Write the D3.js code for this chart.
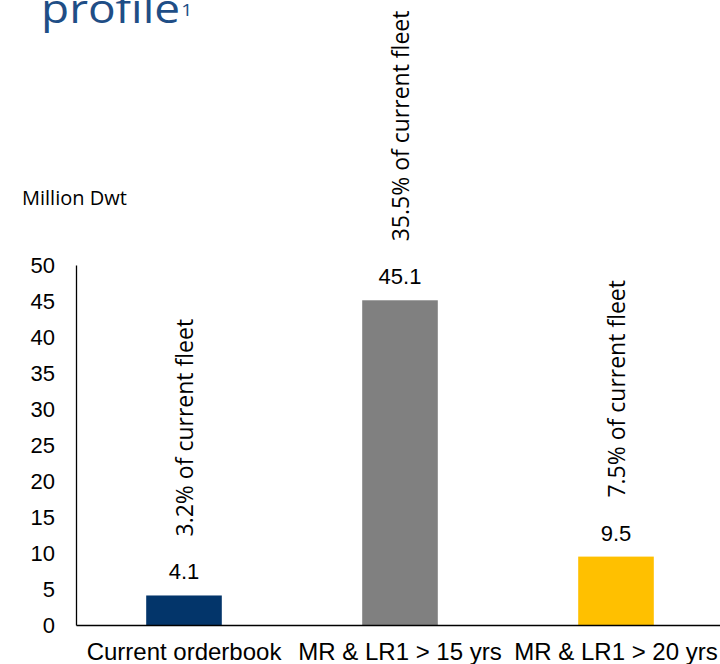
<!DOCTYPE html>
<html>
<head>
<meta charset="utf-8">
<script src="https://cdn.jsdelivr.net/npm/d3@7"></script>
<style>
  body { margin: 0; background: #fff; }
  svg { display: block; }
</style>
</head>
<body>
<div id="chart"></div>
<script>
// chart size
var w = 720;
var h = 664;

// data
var categories = ["Current orderbook", "MR & LR1 > 15 yrs", "MR & LR1 > 20 yrs"];
var values = [4.1, 45.1, 9.5];
var shareLabels = ["3.2% of current fleet", "35.5% of current fleet", "7.5% of current fleet"];
var barColors = ["#03356a", "#808080", "#ffc000"];
var yTicks = [0, 5, 10, 15, 20, 25, 30, 35, 40, 45, 50];

var svg = d3.select("#chart")
    .append("svg")
    .attr("width", w)
    .attr("height", h);

var xScale = d3.scaleBand()
    .domain(categories)
    .range([76, 724])
    .paddingInner(0.65)
    .paddingOuter(0.325);

var yScale = d3.scaleLinear()
    .domain([0, 50])
    .range([625, 265]);

// title (cut off at top)
var title = svg.append("text")
    .attr("transform", "translate(41,23) scale(1.15,1)")
    .style("font-family", "'Open Sans', 'Noto Sans', sans-serif")
    .style("font-size", "40px")
    .style("fill", "#1f4e86")
    .text("profile");
title.append("tspan")
    .attr("dy", -7)
    .attr("dx", 1)
    .style("font-size", "17px")
    .text("1");

// unit label
svg.append("text")
    .attr("x", 22)
    .attr("y", 205)
    .style("font-family", "'Open Sans', 'Noto Sans', sans-serif")
    .style("font-size", "20px")
    .style("fill", "#000")
    .text("Million Dwt");

// bars
svg.selectAll("rect.bar")
    .data(values)
    .enter()
    .append("rect")
    .attr("class", "bar")
    .attr("x", function(d, i) { return xScale(categories[i]); })
    .attr("y", function(d) { return yScale(d); })
    .attr("width", xScale.bandwidth())
    .attr("height", function(d) { return yScale(0) - yScale(d); })
    .style("fill", function(d, i) { return barColors[i]; });

// y axis: line only, labels no ticks
var yAxis = d3.axisLeft(yScale)
    .tickValues(yTicks)
    .tickSize(0)
    .tickPadding(21);

var gy = svg.append("g")
    .attr("transform", "translate(76,0)")
    .call(yAxis);
gy.select(".domain").attr("stroke", "#000").attr("stroke-width", 1.3);
gy.selectAll("text")
    .style("font-family", "'Liberation Sans', Arial, sans-serif")
    .style("font-size", "22px")
    .style("fill", "#000");

// x axis
var xAxis = d3.axisBottom(xScale)
    .tickSize(0)
    .tickPadding(18);

var gx = svg.append("g")
    .attr("transform", "translate(0,625)")
    .call(xAxis);
gx.select(".domain").attr("stroke", "#000").attr("stroke-width", 1.3);
gx.selectAll("text")
    .style("font-family", "'Liberation Sans', Arial, sans-serif")
    .style("font-size", "24px")
    .style("fill", "#000");

// value labels
svg.selectAll("text.val")
    .data(values)
    .enter()
    .append("text")
    .attr("class", "val")
    .attr("x", function(d, i) { return xScale(categories[i]) + xScale.bandwidth() / 2; })
    .attr("y", function(d) { return yScale(d) - 16; })
    .attr("text-anchor", "middle")
    .style("font-family", "'Liberation Sans', Arial, sans-serif")
    .style("font-size", "22px")
    .style("fill", "#000")
    .text(function(d) { return d.toFixed(1); });

// rotated share labels
svg.selectAll("text.share")
    .data(values)
    .enter()
    .append("text")
    .attr("class", "share")
    .attr("transform", function(d, i) {
        var cx = xScale(categories[i]) + xScale.bandwidth() / 2 + 9;
        return "translate(" + cx + "," + (yScale(d) - 59) + ") rotate(-90)";
    })
    .attr("text-anchor", "start")
    .style("font-family", "'Open Sans', 'Noto Sans', sans-serif")
    .style("font-size", "23px")
    .style("fill", "#000")
    .text(function(d, i) { return shareLabels[i]; });
</script>
</body>
</html>
